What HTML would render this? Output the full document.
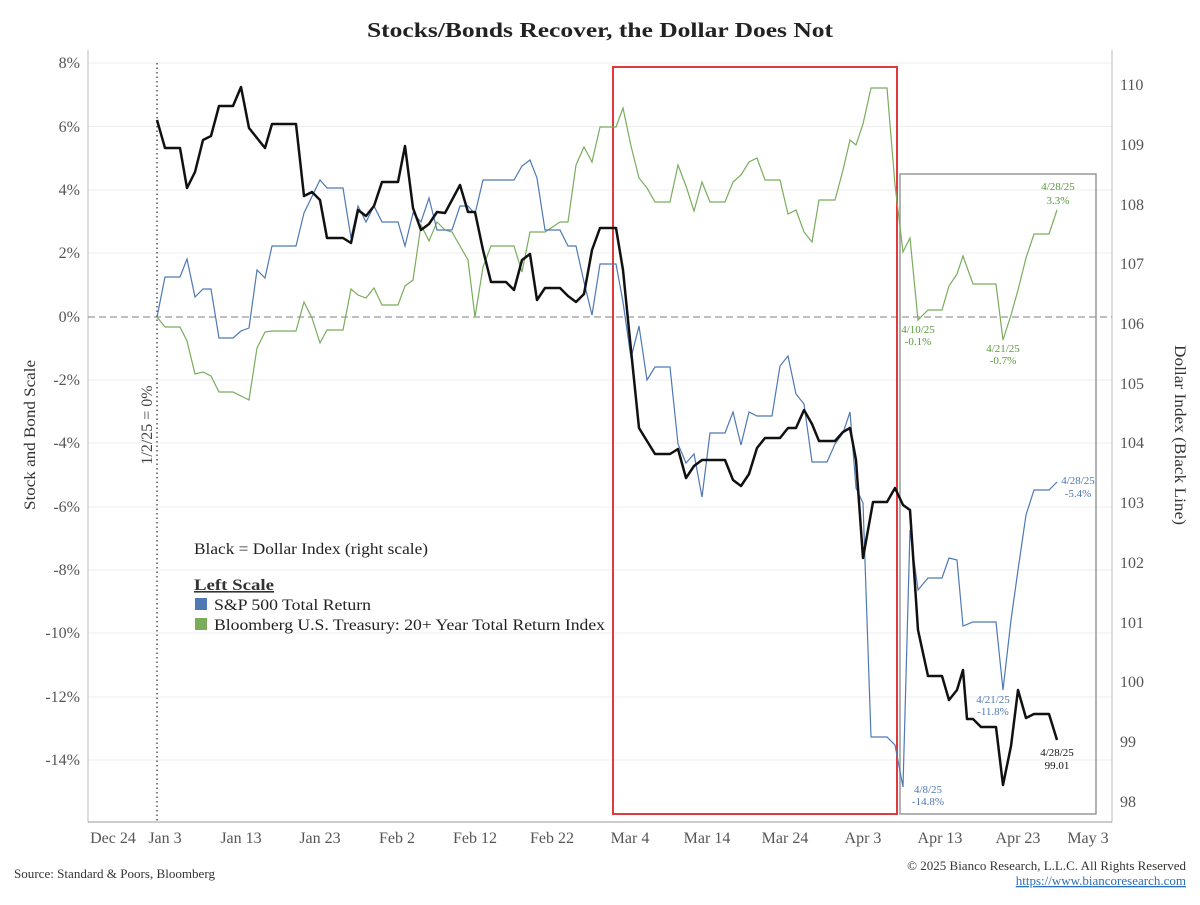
<!DOCTYPE html>
<html><head><meta charset="utf-8"><style>
body{margin:0;background:#fff;}
svg text{font-family:"Liberation Serif",serif;}
</style></head><body>
<svg width="1200" height="900" xmlns="http://www.w3.org/2000/svg">
<rect width="1200" height="900" fill="#fff"/>
<text x="367" y="37" font-size="21" font-weight="bold" fill="#222" textLength="466" lengthAdjust="spacingAndGlyphs">Stocks/Bonds Recover, the Dollar Does Not</text>
<g stroke="#eee" stroke-width="1">
<line x1="88" x2="1112" y1="63" y2="63"/><line x1="88" x2="1112" y1="126.5" y2="126.5"/><line x1="88" x2="1112" y1="190" y2="190"/><line x1="88" x2="1112" y1="253" y2="253"/>
<line x1="88" x2="1112" y1="380" y2="380"/><line x1="88" x2="1112" y1="443" y2="443"/><line x1="88" x2="1112" y1="507" y2="507"/><line x1="88" x2="1112" y1="570" y2="570"/><line x1="88" x2="1112" y1="633" y2="633"/><line x1="88" x2="1112" y1="697" y2="697"/><line x1="88" x2="1112" y1="760" y2="760"/>
</g>
<line x1="88" x2="88" y1="50" y2="822" stroke="#bbb"/>
<line x1="1112" x2="1112" y1="50" y2="822" stroke="#bbb"/>
<line x1="88" x2="1112" y1="822" y2="822" stroke="#999"/>
<line x1="88" x2="1112" y1="317" y2="317" stroke="#999" stroke-dasharray="7,4" stroke-width="1.3"/>
<line x1="157" x2="157" y1="63" y2="822" stroke="#555" stroke-dasharray="1.5,3" stroke-width="1.5"/>
<g font-size="16" fill="#555" text-anchor="end">
<text x="80" y="68">8%</text><text x="80" y="132">6%</text><text x="80" y="195">4%</text><text x="80" y="258">2%</text><text x="80" y="322">0%</text><text x="80" y="385">-2%</text><text x="80" y="448">-4%</text><text x="80" y="512">-6%</text><text x="80" y="575">-8%</text><text x="80" y="638">-10%</text><text x="80" y="702">-12%</text><text x="80" y="765">-14%</text>
</g>
<g font-size="16" fill="#555">
<text x="1120" y="90">110</text><text x="1120" y="150">109</text><text x="1120" y="210">108</text><text x="1120" y="269">107</text><text x="1120" y="329">106</text><text x="1120" y="389">105</text><text x="1120" y="448">104</text><text x="1120" y="508">103</text><text x="1120" y="568">102</text><text x="1120" y="628">101</text><text x="1120" y="687">100</text><text x="1120" y="747">99</text><text x="1120" y="807">98</text>
</g>
<g font-size="16" fill="#555" text-anchor="middle">
<text x="113" y="843">Dec 24</text><text x="165" y="843">Jan 3</text><text x="241" y="843">Jan 13</text><text x="320" y="843">Jan 23</text><text x="397" y="843">Feb 2</text><text x="475" y="843">Feb 12</text><text x="552" y="843">Feb 22</text><text x="630" y="843">Mar 4</text><text x="707" y="843">Mar 14</text><text x="785" y="843">Mar 24</text><text x="863" y="843">Apr 3</text><text x="940" y="843">Apr 13</text><text x="1018" y="843">Apr 23</text><text x="1088" y="843">May 3</text>
</g>
<text transform="translate(35,435) rotate(-90)" text-anchor="middle" font-size="16" fill="#333" textLength="150" lengthAdjust="spacingAndGlyphs">Stock and Bond Scale</text>
<text transform="translate(1175,435) rotate(90)" text-anchor="middle" font-size="16" fill="#333" textLength="180" lengthAdjust="spacingAndGlyphs">Dollar Index (Black Line)</text>
<text transform="translate(152,425) rotate(-90)" text-anchor="middle" font-size="16" fill="#444">1/2/25 = 0%</text>
<rect x="613" y="67" width="284" height="747" fill="none" stroke="#e0393e" stroke-width="2"/>
<rect x="900" y="174" width="196" height="640" fill="none" stroke="#999" stroke-width="1.5"/>
<polyline fill="none" stroke="#79ad5c" stroke-width="1.2" points="157,317 165,327 180,327 187,341 195,374 203,372 211,376 219,392 233,392 241,396 249,400 257,348 265,332 272,331 296,331 304,302 312,318 320,343 327,330 343,330 351,289 358,295 366,298 374,288 382,305 398,305 405,286 413,280 421,225 429,241 437,222 445,230 452,232 460,246 468,260 475,317 483,267 491,246 514,246 522,272 530,232 545,232 560,222 568,222 576,165 584,147 592,162 600,127 616,127 623,108 631,146 639,178 647,188 655,202 670,202 678,165 686,186 694,211 702,182 710,202 725,202 733,182 741,175 749,162 757,158 765,180 780,180 788,214 796,210 804,232 812,242 819,200 835,200 843,170 850,140 856,145 863,124 871,88 887,88 895,185 903,252 910,238 918,320 928,310 942,310 949,286 957,274 963,256 973,284 996,284 1003,340 1011,315 1018,290 1026,258 1034,234 1049,234 1057,210"/>
<polyline fill="none" stroke="#4e79b4" stroke-width="1.2" points="157,317 165,277 180,277 187,259 195,297 203,289 211,289 219,338 233,338 241,331 249,328 257,270 265,278 272,246 296,246 304,213 320,180 327,188 343,188 351,238 358,206 366,222 374,206 382,222 398,222 405,246 413,213 421,222 429,198 437,230 452,230 460,206 468,206 475,214 483,180 514,180 522,166 530,160 537,178 545,230 560,230 568,246 576,246 584,282 592,315 600,264 616,264 623,302 631,358 639,326 647,380 655,367 670,367 678,444 686,463 694,454 702,497 710,433 725,433 733,412 741,445 749,412 757,416 772,416 780,366 788,356 796,394 804,404 812,462 827,462 835,444 843,433 850,412 856,488 863,503 871,737 887,737 895,745 903,787 910,530 918,590 928,578 942,578 949,558 957,560 963,626 973,622 996,622 1003,690 1011,620 1018,570 1026,515 1034,490 1049,490 1057,482"/>
<polyline fill="none" stroke="#111" stroke-width="2.5" stroke-linejoin="round" points="157,120 165,148 180,148 187,188 195,172 203,140 211,136 219,106 233,106 241,87 249,128 265,148 272,124 296,124 304,196 312,192 320,200 327,238 343,238 351,243 358,210 366,216 374,206 382,182 398,182 405,146 413,208 421,230 429,224 437,212 445,213 452,200 460,185 468,212 475,212 483,250 491,282 506,282 514,290 522,260 530,254 537,300 545,288 560,288 568,296 576,302 584,294 592,250 600,228 616,228 623,270 631,350 639,428 655,454 670,454 678,449 686,478 694,466 702,460 725,460 733,480 741,486 749,474 757,448 765,438 780,438 788,428 796,428 804,410 812,424 819,441 835,441 843,432 850,428 856,460 863,558 873,502 887,502 895,488 903,505 910,510 918,630 928,676 942,676 949,700 957,690 963,670 967,719 973,719 981,727 996,727 1003,785 1011,746 1018,690 1026,718 1034,714 1049,714 1057,740"/>
<g font-size="11" text-anchor="middle">
<text x="1058" y="190" fill="#5a9a3a">4/28/25</text><text x="1058" y="204" fill="#5a9a3a">3.3%</text>
<text x="918" y="333" fill="#5a9a3a">4/10/25</text><text x="918" y="345" fill="#5a9a3a">-0.1%</text>
<text x="1003" y="352" fill="#5a9a3a">4/21/25</text><text x="1003" y="364" fill="#5a9a3a">-0.7%</text>
<text x="1078" y="484" fill="#4e79b4">4/28/25</text><text x="1078" y="497" fill="#4e79b4">-5.4%</text>
<text x="993" y="703" fill="#4e79b4">4/21/25</text><text x="993" y="715" fill="#4e79b4">-11.8%</text>
<text x="928" y="793" fill="#4e79b4">4/8/25</text><text x="928" y="805" fill="#4e79b4">-14.8%</text>
<text x="1057" y="756" fill="#111">4/28/25</text><text x="1057" y="769" fill="#111">99.01</text>
</g>
<text x="194" y="554" font-size="16" fill="#222" textLength="234" lengthAdjust="spacingAndGlyphs">Black = Dollar Index (right scale)</text>
<text x="194" y="590" font-size="16" font-weight="bold" fill="#333" text-decoration="underline" textLength="80" lengthAdjust="spacingAndGlyphs">Left Scale</text>
<rect x="195" y="598" width="12" height="12" fill="#4e79b4"/>
<text x="214" y="610" font-size="16" fill="#222" textLength="157" lengthAdjust="spacingAndGlyphs">S&amp;P 500 Total Return</text>
<rect x="195" y="618" width="12" height="12" fill="#79ad5c"/>
<text x="214" y="630" font-size="16" fill="#222" textLength="391" lengthAdjust="spacingAndGlyphs">Bloomberg U.S. Treasury: 20+ Year Total Return Index</text>
<text x="14" y="878" font-size="13" fill="#333" textLength="201" lengthAdjust="spacingAndGlyphs">Source: Standard &amp; Poors, Bloomberg</text>
<text x="1186" y="870" font-size="13" fill="#333" text-anchor="end">© 2025 Bianco Research, L.L.C. All Rights Reserved</text>
<text x="1186" y="885" font-size="13" fill="#2a6fb5" text-anchor="end" text-decoration="underline">https://www.biancoresearch.com</text>
</svg>
</body></html>
